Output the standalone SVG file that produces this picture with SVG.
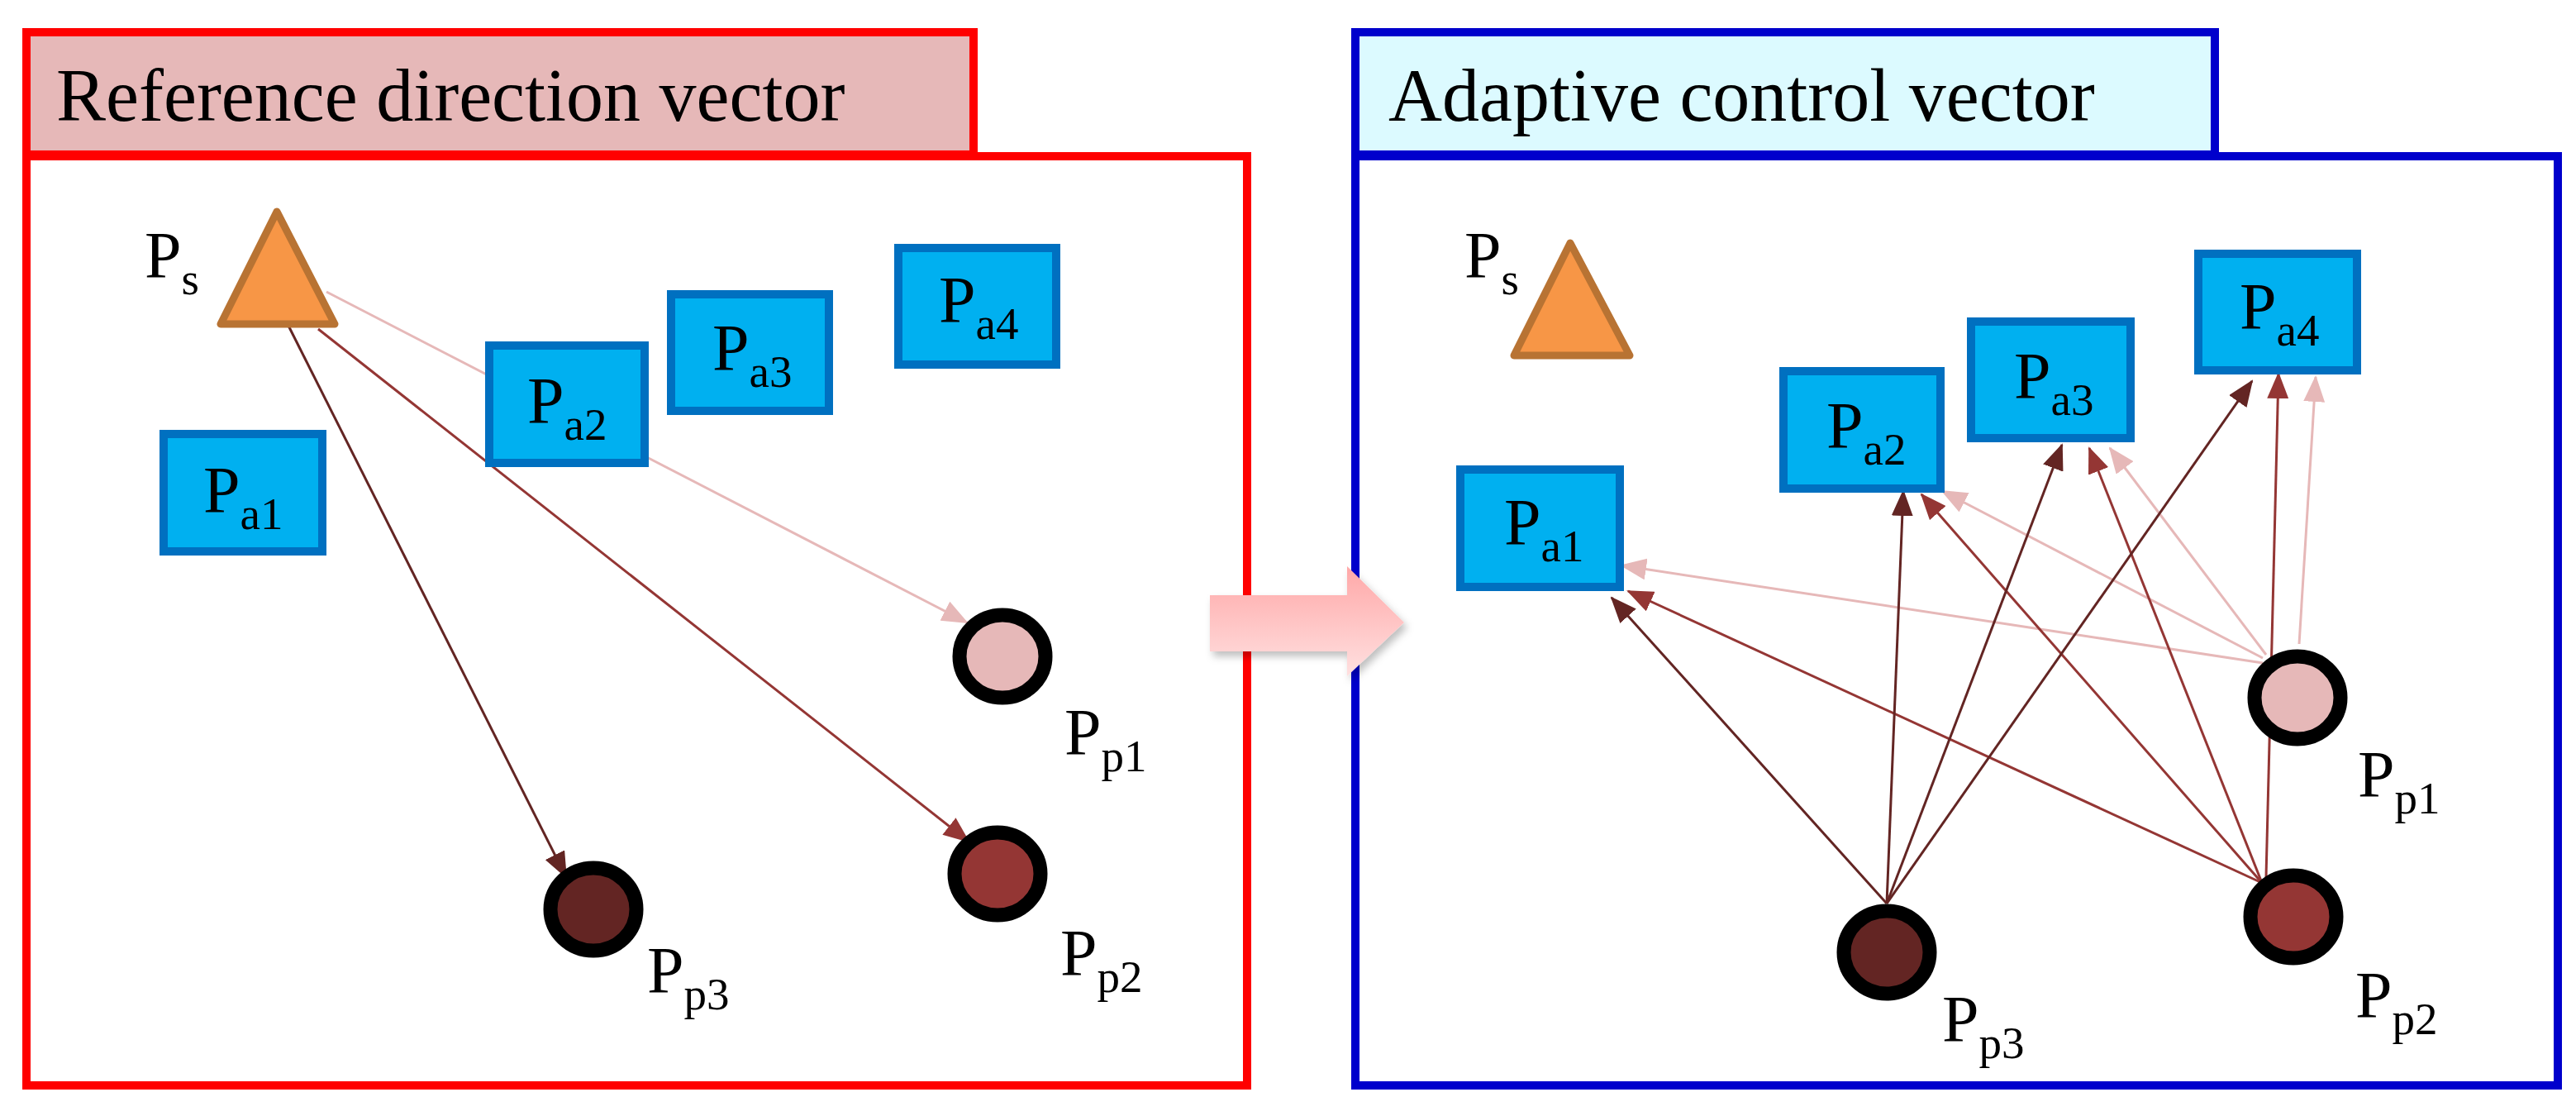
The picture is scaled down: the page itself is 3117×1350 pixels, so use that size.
<svg xmlns="http://www.w3.org/2000/svg" width="3117" height="1350" viewBox="0 0 3117 1350">
<style>
text{font-family:"Liberation Serif","Times New Roman",serif;fill:#000}
.t{font-size:90px}
.l{font-size:80px}
.s{font-size:55px}
.pa{fill:#00b0f0;stroke:#0070c0;stroke-width:10}
.tri{fill:#f79646;stroke:#b87333;stroke-width:9;stroke-linejoin:round}
.c{stroke:#000;stroke-width:17}
.e1{stroke:#e6b8b8;stroke-width:3;fill:none;marker-end:url(#m1)}
.e2{stroke:#943634;stroke-width:3;fill:none;marker-end:url(#m2)}
.e3{stroke:#632523;stroke-width:3;fill:none;marker-end:url(#m3)}
</style>
<defs>
<marker id="m1" markerUnits="userSpaceOnUse" markerWidth="32" markerHeight="26" refX="30" refY="13" orient="auto"><path d="M0,0L32,13L0,26Z" fill="#e6b8b8"/></marker>
<marker id="m2" markerUnits="userSpaceOnUse" markerWidth="32" markerHeight="26" refX="30" refY="13" orient="auto"><path d="M0,0L32,13L0,26Z" fill="#943634"/></marker>
<marker id="m3" markerUnits="userSpaceOnUse" markerWidth="32" markerHeight="26" refX="30" refY="13" orient="auto"><path d="M0,0L32,13L0,26Z" fill="#632523"/></marker>
<linearGradient id="ga" x1="0" y1="0" x2="0" y2="1"><stop offset="0" stop-color="#ffa8a8"/><stop offset="1" stop-color="#ffe0e0"/></linearGradient>
<filter id="sh" x="-20%" y="-20%" width="150%" height="150%"><feDropShadow dx="4" dy="6" stdDeviation="5" flood-color="#000" flood-opacity="0.25"/></filter>
</defs>
<rect width="3117" height="1350" fill="#fff"/>
<g id="leftPanel">
<rect x="32" y="39" width="1146" height="148" fill="#e6b8b8" stroke="#ff0000" stroke-width="10"/>
<rect x="32" y="189" width="1477" height="1124" fill="#fff" stroke="#ff0000" stroke-width="10"/>
<text class="t" x="68" y="146">Reference direction vector</text>
</g>
<g id="rightPanel">
<rect x="1640" y="39" width="1040" height="148" fill="#dcfaff" stroke="#0000cc" stroke-width="10"/>
<rect x="1640" y="189" width="1455" height="1124" fill="#fff" stroke="#0000cc" stroke-width="10"/>
<text class="t" x="1680" y="146">Adaptive control vector</text>
</g>
<g id="bigArrow" filter="url(#sh)">
<path d="M1464,720L1630,720L1630,685L1699,753L1630,818L1630,788L1464,788Z" fill="url(#ga)"/>
</g>
<g id="connectors">
<line class="e1" x1="395" y1="353" x2="1170" y2="753"/>
<line class="e2" x1="385" y1="398" x2="1172" y2="1018"/>
<line class="e3" x1="348" y1="392" x2="685" y2="1061"/>
<line class="e1" x1="2738" y1="802" x2="1962" y2="684"/>
<line class="e1" x1="2738" y1="796" x2="2350" y2="594"/>
<line class="e1" x1="2742" y1="792" x2="2553" y2="542"/>
<line class="e1" x1="2782" y1="779" x2="2802" y2="456"/>
<line class="e2" x1="2737" y1="1068" x2="1970" y2="715"/>
<line class="e2" x1="2737" y1="1068" x2="2325" y2="598"/>
<line class="e2" x1="2737" y1="1068" x2="2528" y2="542"/>
<line class="e2" x1="2742" y1="1061" x2="2757" y2="452"/>
<line class="e3" x1="2283" y1="1093" x2="1950" y2="723"/>
<line class="e3" x1="2283" y1="1093" x2="2303" y2="594"/>
<line class="e3" x1="2283" y1="1093" x2="2495" y2="538"/>
<line class="e3" x1="2283" y1="1093" x2="2725" y2="461"/>
</g>
<g id="L_Ps"><path class="tri" d="M335,256L267,392L405,392Z"/><text class="l" x="175" y="336">P<tspan class="s" dy="20">s</tspan></text></g>
<g id="L_Pa1"><rect class="pa" x="198" y="525" width="192" height="142"/><text class="l" x="246" y="620">P<tspan class="s" dy="20">a1</tspan></text></g>
<g id="L_Pa2"><rect class="pa" x="592" y="418" width="188" height="142"/><text class="l" x="638" y="512">P<tspan class="s" dy="20">a2</tspan></text></g>
<g id="L_Pa3"><rect class="pa" x="812" y="356" width="191" height="141"/><text class="l" x="862" y="448">P<tspan class="s" dy="20">a3</tspan></text></g>
<g id="L_Pa4"><rect class="pa" x="1087" y="300" width="191" height="141"/><text class="l" x="1136" y="390">P<tspan class="s" dy="20">a4</tspan></text></g>
<g id="L_Pp1"><ellipse class="c" cx="1213" cy="794" rx="52" ry="50" fill="#e6b8b8"/><text class="l" x="1288" y="913">P<tspan class="s" dy="20">p1</tspan></text></g>
<g id="L_Pp2"><ellipse class="c" cx="1207" cy="1057" rx="52" ry="50" fill="#943634"/><text class="l" x="1283" y="1180">P<tspan class="s" dy="20">p2</tspan></text></g>
<g id="L_Pp3"><ellipse class="c" cx="718" cy="1100" rx="52" ry="50" fill="#632523"/><text class="l" x="783" y="1201">P<tspan class="s" dy="20">p3</tspan></text></g>
<g id="R_Ps"><path class="tri" d="M1900,294L1832,430L1972,430Z"/><text class="l" x="1772" y="336">P<tspan class="s" dy="20">s</tspan></text></g>
<g id="R_Pa1"><rect class="pa" x="1767" y="568" width="193" height="142"/><text class="l" x="1820" y="659">P<tspan class="s" dy="20">a1</tspan></text></g>
<g id="R_Pa2"><rect class="pa" x="2158" y="449" width="190" height="142"/><text class="l" x="2210" y="542">P<tspan class="s" dy="20">a2</tspan></text></g>
<g id="R_Pa3"><rect class="pa" x="2385" y="389" width="193" height="141"/><text class="l" x="2437" y="482">P<tspan class="s" dy="20">a3</tspan></text></g>
<g id="R_Pa4"><rect class="pa" x="2660" y="307" width="192" height="141"/><text class="l" x="2710" y="398">P<tspan class="s" dy="20">a4</tspan></text></g>
<g id="R_Pp1"><ellipse class="c" cx="2780" cy="844" rx="52" ry="50" fill="#e6b8b8"/><text class="l" x="2853" y="964">P<tspan class="s" dy="20">p1</tspan></text></g>
<g id="R_Pp2"><ellipse class="c" cx="2775" cy="1109" rx="52" ry="50" fill="#943634"/><text class="l" x="2850" y="1231">P<tspan class="s" dy="20">p2</tspan></text></g>
<g id="R_Pp3"><ellipse class="c" cx="2283" cy="1152" rx="52" ry="50" fill="#632523"/><text class="l" x="2350" y="1260">P<tspan class="s" dy="20">p3</tspan></text></g>
</svg>
